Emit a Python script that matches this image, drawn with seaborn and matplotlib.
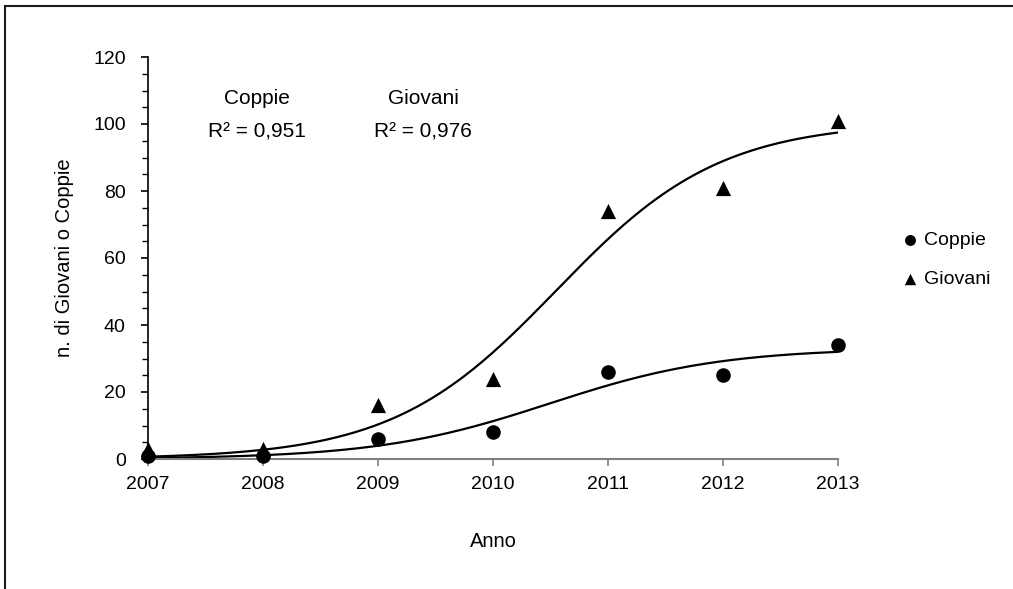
import numpy as np
import pandas as pd
import matplotlib
matplotlib.use("Agg")
import matplotlib.pyplot as plt
from matplotlib.patches import Rectangle
from matplotlib.ticker import MultipleLocator
import seaborn as sns

# ---- data ----
anni = [2007, 2008, 2009, 2010, 2011, 2012, 2013]
coppie = [1, 1, 6, 8, 26, 25, 34]
giovani = [3, 3, 16, 24, 74, 81, 101]
r2_labels = {"Coppie": "R\u00b2 = 0,951", "Giovani": "R\u00b2 = 0,976"}
y_ticks = [0, 20, 40, 60, 80, 100, 120]


def fit_logistic(x, y):
    """Least-squares logistic fit y = K / (1 + exp(-r (x - t0)))."""
    x = np.asarray(x, float)
    y = np.asarray(y, float)
    rs = np.linspace(0.3, 3.0, 271)
    ts = np.linspace(2008.0, 2013.0, 501)
    R, T = np.meshgrid(rs, ts, indexing="ij")
    f = 1.0 / (1.0 + np.exp(-R[..., None] * (x - T[..., None])))
    K = (f * y).sum(-1) / (f * f).sum(-1)
    sse = ((y - K[..., None] * f) ** 2).sum(-1)
    i, j = np.unravel_index(np.argmin(sse), sse.shape)
    return K[i, j], rs[i], ts[j]


df = pd.DataFrame({"Anno": anni, "Coppie": coppie, "Giovani": giovani})

sns.set_style("ticks")
plt.rcParams["font.family"] = ["Liberation Sans", "DejaVu Sans"]
plt.rcParams["text.color"] = "black"
plt.rcParams["axes.labelcolor"] = "black"
plt.rcParams["xtick.color"] = "black"
plt.rcParams["ytick.color"] = "black"

fig = plt.figure(figsize=(10.13, 5.89), dpi=100)
ax = fig.add_axes([148 / 1013, 1 - 459 / 589, (838 - 148) / 1013, (459 - 57) / 589])

xx = np.linspace(2007, 2013, 300)
for name in ["Coppie", "Giovani"]:
    K, r, t0 = fit_logistic(df["Anno"], df[name])
    yy = K / (1 + np.exp(-r * (xx - t0)))
    sns.lineplot(x=xx, y=yy, ax=ax, color="black", lw=1.6, legend=False)

sns.scatterplot(data=df, x="Anno", y="Coppie", ax=ax, marker="o", s=110,
                color="black", edgecolor="black", linewidth=0, label="Coppie",
                zorder=6, clip_on=False)
sns.scatterplot(data=df, x="Anno", y="Giovani", ax=ax, marker="^", s=120,
                color="black", edgecolor="black", linewidth=0, label="Giovani",
                zorder=6, clip_on=False)

ax.set_xlim(2007, 2013)
ax.set_ylim(0, 120)
ax.set_xticks(anni)
ax.set_xticklabels([str(a) for a in anni])
ax.set_yticks(y_ticks)
ax.yaxis.set_minor_locator(MultipleLocator(5))

for s in ["top", "right"]:
    ax.spines[s].set_visible(False)
ax.spines["left"].set_color("black")
ax.spines["left"].set_linewidth(1.2)
ax.spines["bottom"].set_color("#808080")
ax.spines["bottom"].set_linewidth(1.5)

ax.tick_params(axis="y", which="major", direction="out", length=5, width=1.2,
               color="black", labelcolor="black", labelsize=14, pad=11)
ax.tick_params(axis="y", which="minor", direction="out", length=4, width=1.0, color="black")
ax.tick_params(axis="x", which="major", direction="out", length=5, width=1.2,
               color="#808080", labelcolor="black", labelsize=14, pad=7)

ax.set_xlabel("Anno", fontsize=14.5, labelpad=28, color="black")
ax.set_ylabel("n. di Giovani o Coppie", fontsize=14.5, labelpad=14, color="black")

ax.text(2007 + (257 - 148) / 115, 120 * (459 - 99) / 402, "Coppie",
        ha="center", va="center", fontsize=15, color="black")
ax.text(2007 + (257 - 148) / 115, 120 * (459 - 132) / 402, r2_labels["Coppie"],
        ha="center", va="center", fontsize=15, color="black")
ax.text(2007 + (423 - 148) / 115, 120 * (459 - 99) / 402, "Giovani",
        ha="center", va="center", fontsize=15, color="black")
ax.text(2007 + (423 - 148) / 115, 120 * (459 - 132) / 402, r2_labels["Giovani"],
        ha="center", va="center", fontsize=15, color="black")

leg = ax.legend(loc="center left", bbox_to_anchor=(902 / 1013, 1 - 260 / 589),
                bbox_transform=fig.transFigure, frameon=False, fontsize=14,
                handlelength=0.8, handletextpad=0.35, borderpad=0, borderaxespad=0,
                labelspacing=1.1, markerscale=0.75, labelcolor="black")

fig.patches.append(Rectangle((5 / 1013, -0.1), 1.2, 1.1 - 6 / 589, transform=fig.transFigure,
                             fill=False, edgecolor="#1a1a1a", lw=1.5, zorder=0))

fig.savefig("out.png", dpi=100, facecolor="white")
